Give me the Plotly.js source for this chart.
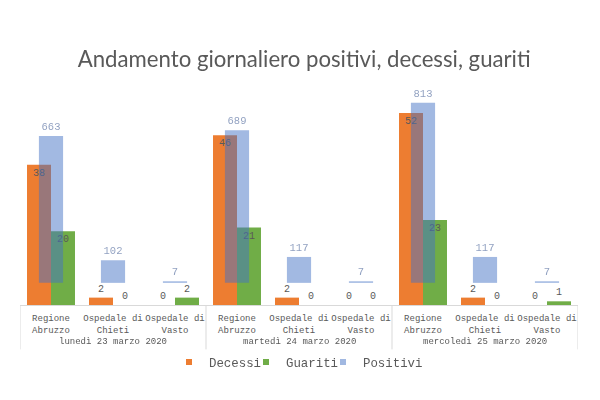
<!DOCTYPE html>
<html>
<head>
<meta charset="utf-8">
<script src="https://cdn.plot.ly/plotly-3.0.1.min.js"></script>
<style>html,body{margin:0;padding:0;background:#fff;}#chart{width:600px;height:400px;}</style>
</head>
<body>
<div id="chart"></div>
<script>
const dates = ['lunedì 23 marzo 2020', 'martedì 24 marzo 2020', 'mercoledì 25 marzo 2020'];
const places = ['Regione<br>Abruzzo', 'Ospedale di<br>Chieti', 'Ospedale di<br>Vasto'];
const seriesNames = ['Decessi', 'Guariti', 'Positivi'];
const decessi = [38, 2, 0, 46, 2, 0, 52, 2, 0];
const guariti = [20, 0, 2, 21, 0, 0, 23, 0, 1];
const positivi = [663, 102, 7, 689, 117, 7, 813, 117, 7];

// category positions along the x axis (one slot per date/place pair)
const inner = [];
dates.forEach(() => places.forEach(p => inner.push(p)));
const xIdx = inner.map((_, i) => i);
const nPer = places.length;

const mono = 'Liberation Mono, DejaVu Sans Mono, monospace';
const grey = '#595959';
const colors = ['#ed7d31', '#70ad47', '#4472c4'];
const legendColors = ['#ed7d31', '#70ad47', 'rgba(68,114,196,0.5)'];
const pos = v => v.map(n => n > 5 ? 'inside' : 'outside');

const traces = [
  {
    type: 'bar', name: seriesNames[0], x: xIdx, y: decessi, showlegend: false,
    marker: {color: colors[0]},
    text: decessi.map(String), textposition: pos(decessi), insidetextanchor: 'end',
    textfont: {family: mono, size: 10, color: grey}, constraintext: 'none', cliponaxis: false,
    hoverinfo: 'skip'
  },
  {
    type: 'bar', name: seriesNames[1], x: xIdx, y: guariti, showlegend: false,
    marker: {color: colors[1]},
    text: guariti.map(String), textposition: pos(guariti), insidetextanchor: 'end',
    textfont: {family: mono, size: 10, color: grey}, constraintext: 'none', cliponaxis: false,
    hoverinfo: 'skip'
  },
  {
    type: 'bar', name: seriesNames[2], x: xIdx, y: positivi, yaxis: 'y2', showlegend: false,
    marker: {color: colors[2]}, opacity: 0.5, width: 0.39,
    text: positivi.map(String), textposition: 'outside',
    textfont: {family: mono, size: 10.5, color: '#1f3f80'}, constraintext: 'none', cliponaxis: false,
    hoverinfo: 'skip'
  }
];
// legend-only entries with small square swatches, one legend box each
const legendIds = ['legend', 'legend2', 'legend3'];
seriesNames.forEach((n, i) => traces.push({
  type: 'scatter', mode: 'markers', name: n, x: [null], y: [null], legend: legendIds[i],
  marker: {symbol: 'square', size: 6, color: legendColors[i]}, hoverinfo: 'skip'
}));

const plotTop = 95, plotBottom = 305.5, plotH = plotBottom - plotTop;
const plotLeft = 20, plotW = 558;
const pyPaper = px => (plotBottom - px) / plotH;
const pxPaper = px => (px - plotLeft) / plotW;

// date labels under each group
const annotations = dates.map((d, k) => ({
  text: d, x: k * nPer + (nPer - 1) / 2, xref: 'x',
  y: pyPaper(343), yref: 'paper', yanchor: 'middle', xanchor: 'center',
  showarrow: false, font: {family: mono, size: 9, color: grey}
}));
// group separators
const shapes = [];
for (let k = 0; k <= dates.length; k++) {
  shapes.push({
    type: 'line', xref: 'x', yref: 'paper',
    x0: k * nPer - 0.5, x1: k * nPer - 0.5, y0: 0, y1: pyPaper(350),
    line: {color: '#d9d9d9', width: 1}
  });
}

const legendBase = {
  orientation: 'h', xanchor: 'left', y: pyPaper(363), yanchor: 'middle', itemwidth: 30,
  font: {family: mono, size: 12.4, color: grey}, bgcolor: 'rgba(0,0,0,0)'
};
const legendLeft = [169, 246, 323];

const layout = {
  width: 600, height: 400,
  paper_bgcolor: '#fff', plot_bgcolor: '#fff',
  margin: {l: plotLeft, r: 600 - plotLeft - plotW, t: plotTop, b: 400 - plotBottom, pad: 0},
  barmode: 'group', bargap: 0.226, bargroupgap: 0,
  showlegend: true,
  title: {
    text: 'Andamento giornaliero positivi, decessi, guariti',
    font: {family: 'Lato, Open Sans, sans-serif', size: 22.2, color: grey},
    x: 0.507, xref: 'container', xanchor: 'center',
    y: 1 - 59 / 400, yref: 'container', yanchor: 'middle'
  },
  xaxis: {
    range: [-0.5, xIdx.length - 0.5],
    tickmode: 'array', tickvals: xIdx, ticktext: inner,
    showline: true, linecolor: '#d9d9d9', linewidth: 1,
    ticks: '', tickangle: 0, automargin: false, ticklabelstandoff: 4,
    tickfont: {family: mono, size: 9, color: grey},
    showgrid: false, zeroline: false, fixedrange: true
  },
  yaxis: {
    range: [0, 56.9], showgrid: false, zeroline: false, showline: false,
    showticklabels: false, ticks: '', fixedrange: true
  },
  yaxis2: {
    overlaying: 'y', side: 'right', range: [-100, 848.2],
    showgrid: false, zeroline: false, showline: false,
    showticklabels: false, ticks: '', fixedrange: true
  },
  annotations: annotations,
  shapes: shapes,
  legend: Object.assign({}, legendBase, {x: pxPaper(legendLeft[0])}),
  legend2: Object.assign({}, legendBase, {x: pxPaper(legendLeft[1])}),
  legend3: Object.assign({}, legendBase, {x: pxPaper(legendLeft[2])})
};

Plotly.newPlot('chart', traces, layout, {staticPlot: true, displayModeBar: false});
</script>
</body>
</html>
